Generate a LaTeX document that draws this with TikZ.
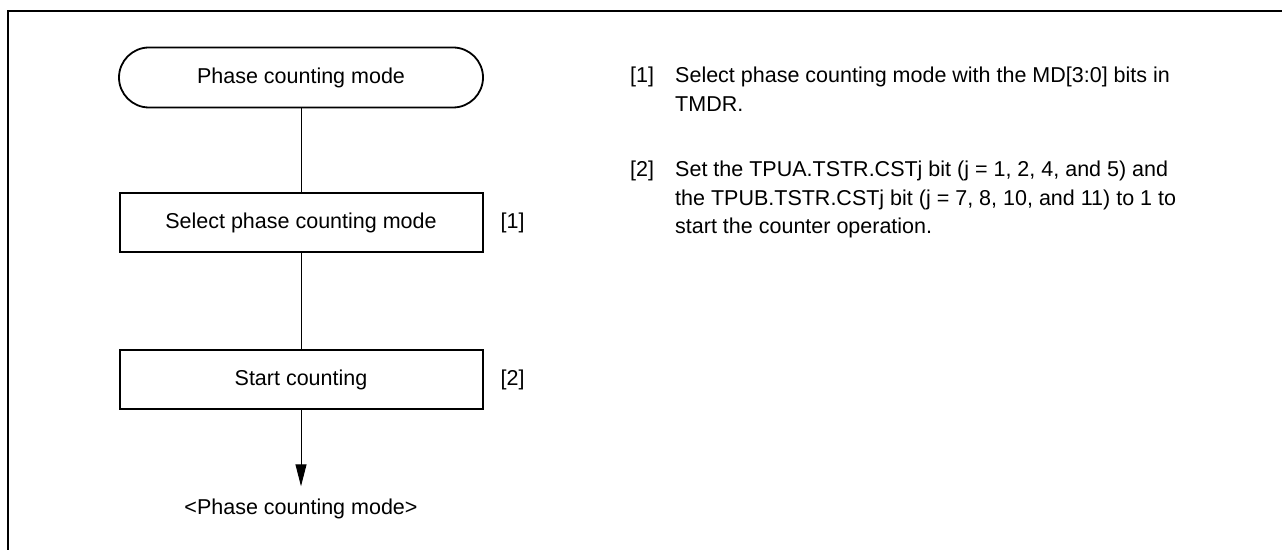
\documentclass[tikz,border=0pt]{standalone}
\usepackage{fontspec}
\setmainfont{Liberation Sans}
\usetikzlibrary{positioning, arrows.meta}

\begin{document}
\begin{tikzpicture}[x=1pt, y=1pt,
  >={Triangle[length=22pt, width=11pt]}, font=\fontsize{21.5}{28.5}\selectfont,
  term/.style={draw, line width=1.8pt, rounded corners=30pt,
    minimum width=364pt, minimum height=60pt},
  proc/.style={draw, line width=2pt, minimum width=363pt, minimum height=59pt},
  tag/.style={inner sep=0pt, anchor=base west},
  note/.style={align=left, inner sep=0pt, anchor=base west},
  arr/.style={line width=1pt}
]
\useasboundingbox (0,0) rectangle (1282,549);
% frame
\draw[line width=2.5pt] (8,-5) -- (8,538) -- (1290,538);
% flow
\node[term] (start) at (301,471.5) {Phase counting mode};
\node[proc, below=84pt of start] (sel) {Select phase counting mode};
\node[proc, below=96pt of sel] (cnt) {Start counting};
\node[inner sep=0pt, right=17pt of sel] (t1) {[1]};
\node[inner sep=0pt, right=17pt of cnt] (t2) {[2]};
\node[inner ysep=12pt] (endm) at (301,40.5) {<Phase counting mode>};
\draw[arr] (start) -- (sel);
\draw[arr] (sel) -- (cnt);
\draw[arr, ->] (cnt) -- (endm);
% notes (base = last line)
\node[tag] (n1) at (630,466) {[1]};
\node[note] (d1) at (675,437.5) {Select phase counting mode with the MD[3:0] bits in\\TMDR.};
\node[tag] (n2) at (630,372) {[2]};
\node[note] (d2) at (675,315) {Set the TPUA.TSTR.CSTj bit (j = 1, 2, 4, and 5) and\\the TPUB.TSTR.CSTj bit (j = 7, 8, 10, and 11) to 1 to\\start the counter operation.};
\end{tikzpicture}
\end{document}
